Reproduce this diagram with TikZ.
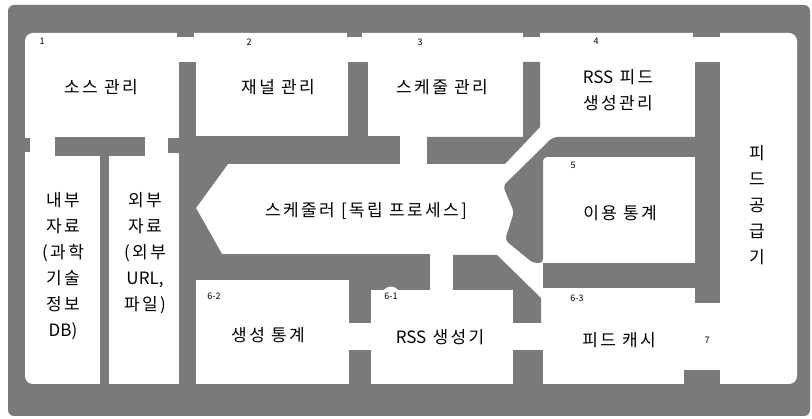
\documentclass[tikz,border=0pt]{standalone}
\usepackage{fontspec}
\setmainfont{Noto Sans CJK KR}[LetterSpace=14]
\newfontfamily\latinf{Noto Sans CJK KR}
\begin{document}
\begin{tikzpicture}[x=1pt,y=-1pt,
  wall/.style={fill=black!52},
  lbl/.style={font=\fontsize{17}{26}\selectfont, align=center, inner sep=0pt},
  num/.style={circle, fill=white, inner sep=1.5pt, font=\latinf\fontsize{9}{9}\selectfont}]
\useasboundingbox (0,0) rectangle (812,419);
\fill[white] (0,0) rectangle (812,419);
% frame
\fill[wall, rounded corners=6] (8,5) rectangle (810,416);
\fill[white, rounded corners=8] (25,33) rectangle (797,384);
% small bumps
\fill[wall] (177,30) rectangle (194,37);
\fill[wall] (347,30) rectangle (362,37);
\fill[wall] (523,30) rectangle (540,37);
\fill[wall] (693,30) rectangle (720,37);
\fill[wall] (20,138) rectangle (30,152);
% left columns
\fill[wall] (55,137) rectangle (145,156);
\fill[wall] (100,155) rectangle (109,390);
\fill[wall] (179,62) rectangle (196,390);
\fill[wall] (168,138) rectangle (179,153);
% scheduler
\fill[wall] (196,136) rectangle (400,164);
\fill[wall] (196,164) -- (228,164) -- (196,208) -- cycle;
\fill[wall] (196,208) -- (222,254) -- (196,254) -- cycle;
\fill[wall] (196,254) rectangle (430,280);
\fill[wall] (370,280) rectangle (430,290);
\fill[wall] (349,280) rectangle (371,323);
\fill[wall] (349,350) rectangle (371,390);
\fill[wall] (453,255) -- (497,255) -- (541,298) -- (541,323) -- (513,323) -- (513,290) -- (453,290) -- cycle;
\fill[wall] (513,350) rectangle (543,390);
% top walls
\fill[wall] (348,62) rectangle (368,137);
\fill[wall] (523,62) -- (540,62) -- (540,127) -- (505,164) -- (427,164) -- (427,137) -- (523,137) -- cycle;
\fill[wall, rounded corners=4] (553,137) -- (705,137) -- (705,157) -- (543,157) -- (543,263) -- (533,263) -- (505,240) -- (514,212) -- (503,186) -- cycle;
\fill[wall] (695,62) rectangle (720,303);
\fill[wall] (543,263) rectangle (697,288);
\fill[wall] (684,370) rectangle (720,390);
% labels
\node[lbl] (src) at (101,87) {소스 관리};
\node[lbl] (chn) at (278,87) {재널 관리};
\node[lbl] (sch) at (442,87) {스케줄 관리};
\node[lbl] (rssm) at (618,90) {{\latinf RSS} 피드\\생성관리};
\node[lbl] (feed) at (757,205) {피\\드\\공\\급\\기};
\node[lbl] (int) at (63,266) {내부\\자료\\(과학\\기술\\정보\\{\latinf DB)}};
\node[lbl] (ext) at (145,253) {외부\\자료\\(외부\\{\latinf URL,}\\파일)};
\node[lbl] (proc) at (366,211) {스케줄러 [독립 프로세스]};
\node[lbl] (use) at (620,213) {이용 통계};
\node[lbl] (gst) at (268,335) {생성 통계};
\node[lbl] (gen) at (440,337) {{\latinf RSS} 생성기};
\node[lbl] (cache) at (619,340) {피드 캐시};
% numbers
\node[num] (n1) at (42,41) {1};
\node[num] (n2) at (249,42) {2};
\node[num] (n3) at (420,42) {3};
\node[num] (n4) at (596,41) {4};
\node[num] (n5) at (573,165) {5};
\node[num] (n62) at (214,296) {6-2};
\node[num] (n61) at (391,296) {6-1};
\node[num] (n63) at (577,298) {6-3};
\node[num] (n7) at (707,340) {7};
\end{tikzpicture}
\end{document}
